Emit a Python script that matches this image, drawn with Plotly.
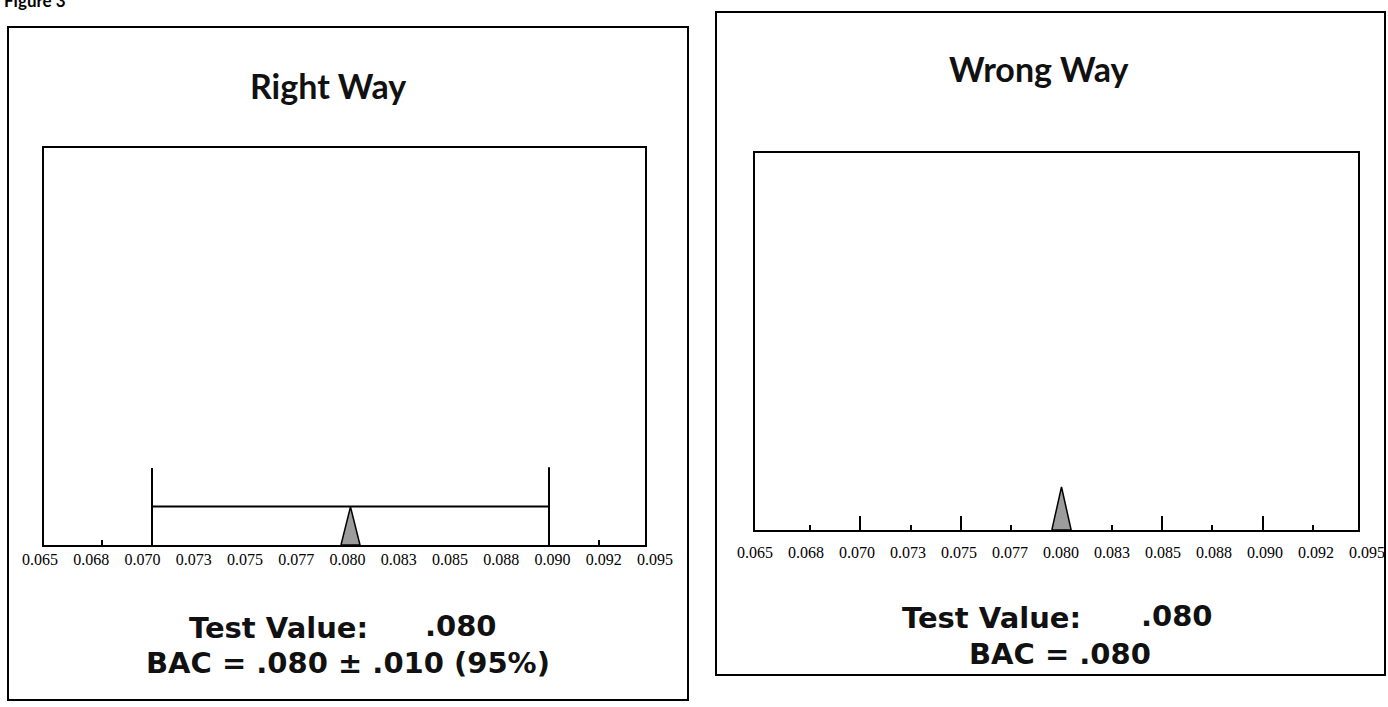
import plotly.graph_objects as go

# ---------------- data ----------------
test_value = 0.080          # measured BAC
uncertainty = 0.010         # 95% expanded uncertainty (right way only)
tick_values = [0.065, 0.0675, 0.070, 0.0725, 0.075, 0.0775, 0.080,
               0.0825, 0.085, 0.0875, 0.090, 0.0925, 0.095]
tick_labels = ["0.065", "0.068", "0.070", "0.073", "0.075", "0.077", "0.080",
               "0.083", "0.085", "0.088", "0.090", "0.092", "0.095"]
bar_height_low = 19.4       # vertical limit mark at lower bound
bar_height_high = 19.6      # vertical limit mark at upper bound
bar_level = 9.7             # horizontal interval line
peak_height_right = 9.6     # triangle height, right way
peak_height_wrong = 11.4    # triangle height, wrong way
peak_half_width = 0.00048
major_ticks_wrong = [0.070, 0.075, 0.085, 0.090]
minor_ticks_wrong = [0.0675, 0.0725, 0.0775, 0.0825, 0.0875, 0.0925]
minor_ticks_right = [0.0675, 0.0925]

W, H = 1388, 707
def px(x):
    return x / W
def py(y):
    return 1 - y / H

fig = go.Figure()

lo = test_value - uncertainty
hi = test_value + uncertainty

# ---- Right Way panel (x, y) ----
fig.add_trace(go.Scatter(
    x=[lo, lo, None, lo, hi, None, hi, hi],
    y=[0, bar_height_low, None, bar_level, bar_level, None, 0, bar_height_high],
    mode="lines", line=dict(color="black", width=2),
    xaxis="x", yaxis="y", hoverinfo="skip", showlegend=False))
fig.add_trace(go.Scatter(
    x=[test_value - peak_half_width, test_value, test_value + peak_half_width, test_value - peak_half_width],
    y=[0, peak_height_right, 0, 0],
    mode="lines", fill="toself", fillcolor="#9c9c9c",
    line=dict(color="black", width=1.5),
    xaxis="x", yaxis="y", hoverinfo="skip", showlegend=False))

# ---- Wrong Way panel (x2, y2) ----
fig.add_trace(go.Scatter(
    x=[test_value - peak_half_width, test_value, test_value + peak_half_width, test_value - peak_half_width],
    y=[0, peak_height_wrong, 0, 0],
    mode="lines", fill="toself", fillcolor="#9c9c9c",
    line=dict(color="black", width=1.5),
    xaxis="x2", yaxis="y2", hoverinfo="skip", showlegend=False))

# invisible traces to carry the tick-label axes
for xa, ya in (("x3", "y3"), ("x4", "y4")):
    fig.add_trace(go.Scatter(x=[tick_values[0], tick_values[-1]], y=[0, 0],
                             mode="markers", marker=dict(opacity=0),
                             xaxis=xa, yaxis=ya, hoverinfo="skip", showlegend=False))

box_axis = dict(showline=True, mirror=True, linecolor="black", linewidth=2,
                showgrid=False, zeroline=False, showticklabels=False,
                fixedrange=True, automargin=False)

label_font = dict(family="Liberation Serif", size=16, color="black")
label_axis = dict(showline=False, showgrid=False, zeroline=False, ticks="",
                  tickvals=tick_values, ticktext=tick_labels, tickfont=label_font,
                  range=[tick_values[0], tick_values[-1]], fixedrange=True,
                  automargin=False)

fig.update_layout(
    width=W, height=H, margin=dict(l=0, r=0, t=0, b=0, pad=0, autoexpand=False),
    paper_bgcolor="white", plot_bgcolor="rgba(0,0,0,0)", showlegend=False,
    xaxis=dict(box_axis, domain=[px(44), px(645)], range=[0.06456, 0.094836],
               ticks="inside", ticklen=5, tickwidth=1.5, tickcolor="black",
               tickvals=minor_ticks_right, anchor="y"),
    yaxis=dict(box_axis, domain=[py(545), py(148)], range=[0, 100], ticks="", anchor="x"),
    xaxis2=dict(box_axis, domain=[px(755), px(1358)], range=[0.064766, 0.094737],
                ticks="inside", ticklen=14, tickwidth=1.5, tickcolor="black",
                tickvals=major_ticks_wrong,
                minor=dict(tickvals=minor_ticks_wrong, ticks="inside", ticklen=5,
                           tickwidth=1.5, tickcolor="black"),
                anchor="y2"),
    yaxis2=dict(box_axis, domain=[py(530), py(153)], range=[0, 100], ticks="", anchor="x2"),
    xaxis3=dict(label_axis, domain=[px(40), px(655)], anchor="y3"),
    yaxis3=dict(visible=False, domain=[py(548), py(148)], range=[0, 1],
                fixedrange=True, automargin=False),
    xaxis4=dict(label_axis, domain=[px(755), px(1367)], anchor="y4"),
    yaxis4=dict(visible=False, domain=[py(541), py(153)], range=[0, 1],
                fixedrange=True, automargin=False),
)

# outer frames
fig.add_shape(type="rect", xref="paper", yref="paper",
              x0=px(8), x1=px(688), y0=py(700), y1=py(27),
              line=dict(color="black", width=2))
fig.add_shape(type="rect", xref="paper", yref="paper",
              x0=px(716), x1=px(1385), y0=py(675), y1=py(12),
              line=dict(color="black", width=2))

title_font = dict(family="Lato", size=34, color="#111111")
text_font = dict(family="DejaVu Sans", size=29, color="#111111")

def note(text, x, y, font, xanchor="center"):
    fig.add_annotation(text=text, x=px(x), y=py(y), xref="paper", yref="paper",
                       showarrow=False, font=font, xanchor=xanchor, yanchor="middle")

note("<b>Figure 3</b>", 2, 0, dict(family="Lato", size=17, color="black"), xanchor="left")
note("<b>Right Way</b>", 328, 85, title_font)
note("<b>Wrong Way</b>", 1038, 68, title_font)
note("<b>Test Value:</b>", 187, 628, text_font, xanchor="left")
note("<b>.080</b>", 423, 626, text_font, xanchor="left")
note("<b>BAC = .080 ± .010 (95%)</b>", 348, 663, text_font)
note("<b>Test Value:</b>", 900, 618, text_font, xanchor="left")
note("<b>.080</b>", 1139, 616, text_font, xanchor="left")
note("<b>BAC = .080</b>", 1060, 654, text_font)

fig.write_html("out.html", config={"displayModeBar": False},
               post_script="document.body.style.margin='0';document.body.style.overflow='hidden';")
